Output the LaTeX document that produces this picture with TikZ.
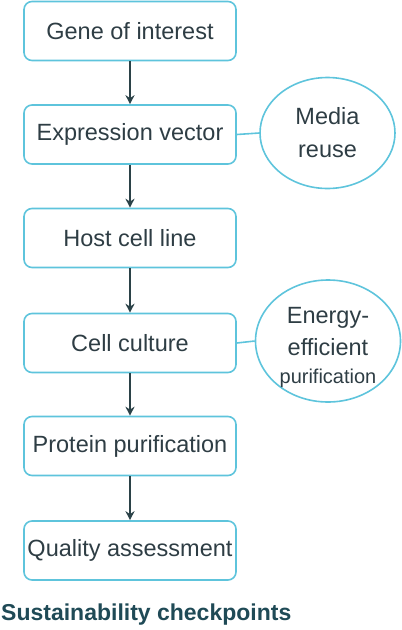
\documentclass[tikz,border=0pt]{standalone}
\usepackage{fontspec}
\setmainfont{Liberation Sans}
\usetikzlibrary{arrows.meta,shapes.geometric}
\definecolor{boxblue}{HTML}{5EC4DC}
\definecolor{txt}{HTML}{2E3D44}
\definecolor{arr}{HTML}{2B4248}
\definecolor{ttl}{HTML}{1F4A56}
\begin{document}
\begin{tikzpicture}[x=1pt,y=-1pt,
  stepbox/.style={draw=boxblue,line width=1.6pt,rounded corners=8pt,minimum width=212pt,minimum height=59pt,inner sep=0pt,text=txt,font=\fontsize{23.5}{28}\selectfont},
  checkell/.style={draw=boxblue,line width=1.6pt,ellipse,inner sep=0pt,text=txt,align=center},
  flow/.style={draw=arr,line width=1.4pt,-{Stealth[length=9pt,width=9pt]}},
  link/.style={draw=boxblue,line width=1.6pt}]
\useasboundingbox (0,0) rectangle (402,630);
\node[stepbox] (b1) at (130,31) {Gene of interest};
\node[stepbox] (b2) at (130,134.5) {Expression vector};
\node[stepbox] (b3) at (130,238) {Host cell line};
\node[stepbox] (b4) at (130,343) {Cell culture};
\node[stepbox] (b5) at (130,446) {Protein purification};
\node[stepbox] (b6) at (130,550.5) {Quality assessment};
\draw[flow] (b1) -- (b2);
\draw[flow] (b2) -- (b3);
\draw[flow] (b3) -- (b4);
\draw[flow] (b4) -- (b5);
\draw[flow] (b5) -- (b6);
\node[checkell,minimum width=135pt,minimum height=111pt,font=\fontsize{23.5}{33}\selectfont] (e1) at (327.5,133) {Media\\reuse};
\node[checkell,minimum width=145pt,minimum height=122pt] (e2) at (328,341) {};
\node[inner sep=0pt,text=txt,align=center,font=\fontsize{23.5}{32}\selectfont] (e2t) at (328,347) {Energy-\\efficient\\[-4pt]{\fontsize{20}{32}\selectfont purification}};
\draw[link] (b2.east) -- (e1.west);
\draw[link] (b4.east) -- (e2.west);
\node[anchor=base west,inner sep=0pt,text=ttl,font=\bfseries\fontsize{23}{27}\selectfont] (title) at (1,620) {Sustainability checkpoints};
\end{tikzpicture}
\end{document}
